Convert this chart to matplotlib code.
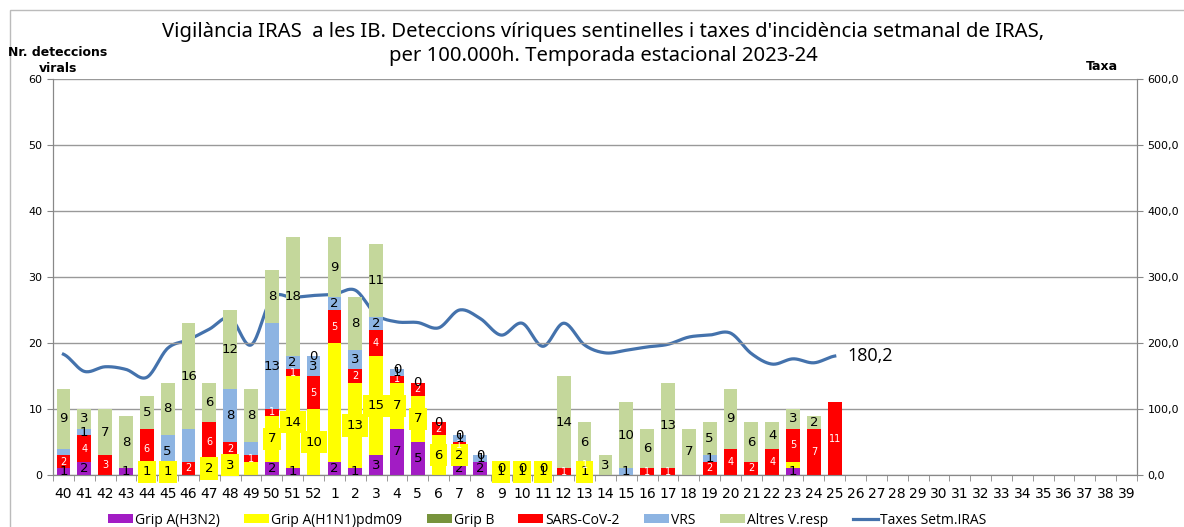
import matplotlib
matplotlib.use("Agg")
import matplotlib.pyplot as plt
from matplotlib.patches import Patch, Rectangle
from matplotlib.lines import Line2D
import numpy as np

# setmanes epidemiologiques (temporada 2023-24)
weeks = [str(w) for w in list(range(40, 53)) + list(range(1, 40))]

# deteccions per virus, setmanes 40..25 (resta sense dades)
h3n2 = [1, 2, 0, 1, 0, 0, 0, 0, 0, 0, 2, 1, 0, 2, 1, 3, 7, 5, 0, 2, 2, 0, 0, 0,
        0, 0, 0, 0, 0, 0, 0, 0, 0, 0, 0, 1, 0, 0]
h1n1 = [0, 0, 0, 0, 1, 1, 0, 2, 3, 2, 7, 14, 10, 18, 13, 15, 7, 7, 6, 2, 0, 1, 1, 1,
        0, 1, 0, 0, 0, 0, 0, 0, 0, 0, 0, 1, 0, 0]
gripb = [0] * 38
sars = [2, 4, 3, 0, 6, 0, 2, 6, 2, 1, 1, 1, 5, 5, 2, 4, 1, 2, 2, 1, 0, 0, 0, 0,
        1, 1, 0, 0, 1, 1, 0, 2, 4, 2, 4, 5, 7, 11]
vrs = [1, 1, 0, 0, 0, 5, 5, 0, 8, 2, 13, 2, 3, 2, 3, 2, 1, 0, 0, 1, 1, 0, 0, 0,
       0, 0, 0, 1, 0, 0, 0, 1, 0, 0, 0, 0, 0, 0]
altres = [9, 3, 7, 8, 5, 8, 16, 6, 12, 8, 8, 18, 0, 9, 8, 11, 0, 0, 0, 0, 0, 0, 0, 0,
          14, 6, 3, 10, 6, 13, 7, 5, 9, 6, 4, 3, 2, None]

# taxa setmanal IRAS per 100.000h
taxes = [183, 157, 164, 160, 148, 192, 205, 221, 238, 197, 268, 269, 272, 274, 280, 243,
         232, 231, 223, 250, 237, 212, 230, 195, 230, 197, 185, 189, 194, 198, 209, 212,
         215, 184, 168, 176, 170, 180.2]

series_names = ["Grip A(H3N2)", "Grip A(H1N1)pdm09", "Grip B", "SARS-CoV-2", "VRS", "Altres V.resp"]
series_vals = [h3n2, h1n1, gripb, sars, vrs, altres]
colors = ["#A21CC4", "#FFFF00", "#77933C", "#FF0000", "#8DB4E2", "#C4D79B"]

# etiquetes que no surten al grafic original
no_label = {("VRS", "40"), ("VRS", "46"), ("VRS", "49"), ("Grip A(H1N1)pdm09", "49"),
            ("Grip A(H1N1)pdm09", "1"), ("Grip A(H1N1)pdm09", "23")}

plt.rcParams["font.family"] = ["DejaVu Sans"]

fig = plt.figure(figsize=(11.84, 5.27), dpi=100)
ax = fig.add_axes([53 / 1184, 1 - 475 / 527, (1137 - 53) / 1184, (475 - 79) / 527])
ax2 = ax.twinx()

n = len(taxes)
x = np.arange(n)
bottom = np.zeros(n)
for name, vals, col in zip(series_names, series_vals, colors):
    v = np.array([np.nan if a is None else a for a in vals], dtype=float)
    h = np.nan_to_num(v)
    ax.bar(x, h, 0.66, bottom=bottom, color=col, zorder=2)
    for i in range(n):
        if np.isnan(v[i]) or (name, weeks[i]) in no_label:
            continue
        if v[i] == 0 and name != "Altres V.resp":
            continue
        yc = bottom[i] + h[i] / 2
        if name == "SARS-CoV-2":
            ax.text(i, yc, str(int(v[i])), ha="center", va="center", fontsize=7,
                    color="white", zorder=4)
        elif name == "Grip A(H1N1)pdm09":
            ax.text(i, yc, str(int(v[i])), ha="center", va="center", fontsize=9.5,
                    color="black", zorder=4,
                    bbox=dict(boxstyle="square,pad=0.35", fc="#FFFF00", ec="none"))
        else:
            ax.text(i, yc, str(int(v[i])), ha="center", va="center", fontsize=9.5,
                    color="black", zorder=4)
    bottom += h

# linia suavitzada (com Excel: bezier catmull-rom)
t = np.array(taxes, dtype=float)
px, py = [], []
for i in range(n - 1):
    p0 = t[i - 1] if i > 0 else t[i]
    p3 = t[i + 2] if i + 2 < n else t[i + 1]
    p1, p2 = t[i], t[i + 1]
    s = np.linspace(0, 1, 20)
    c1 = p1 + (p2 - p0) / 6
    c2 = p2 - (p3 - p1) / 6
    yy = (1 - s) ** 3 * p1 + 3 * (1 - s) ** 2 * s * c1 + 3 * (1 - s) * s ** 2 * c2 + s ** 3 * p2
    px.extend(i + s)
    py.extend(yy)
ax2.plot(px, py, color="#4472AC", lw=2.3, zorder=3)
ax2.text(n - 1 + 0.6, taxes[-1], ("%.1f" % taxes[-1]).replace(".", ","), fontsize=13,
         family="Open Sans", va="center", ha="left")

ax.set_xlim(-0.5, len(weeks) - 0.5)
ax.set_ylim(0, 60)
ax2.set_ylim(0, 600)
ax.set_yticks(range(0, 61, 10))
ax2.set_yticks(range(0, 601, 100))
ax2.set_yticklabels([("%.1f" % v).replace(".", ",") for v in range(0, 601, 100)])
ax.set_xticks(np.arange(len(weeks)))
ax.set_xticklabels(weeks)
ax.set_xticks(np.arange(len(weeks) + 1) - 0.5, minor=True)
ax.tick_params(axis="x", which="major", length=0, labelsize=10, pad=9)
ax.tick_params(axis="x", which="minor", length=4, color="#888888")
ax.tick_params(axis="y", length=4, color="#888888", labelsize=8)
ax2.tick_params(axis="y", length=4, color="#888888", labelsize=8)
ax.yaxis.grid(True, color="#999999", lw=1, zorder=0)
ax.set_axisbelow(True)
for a in (ax, ax2):
    a.spines["top"].set_visible(False)
    for sp in ("left", "right", "bottom"):
        a.spines[sp].set_color("#888888")
ax.set_zorder(ax2.get_zorder() + 1)
ax.patch.set_visible(False)

fig.text(603 / 1184, 1 - 44 / 527,
         "Vigilància IRAS  a les IB. Deteccions víriques sentinelles i taxes d'incidència setmanal de IRAS,\n"
         "per 100.000h. Temporada estacional 2023-24",
         ha="center", va="center", fontsize=14.6, family="Noto Sans", linespacing=1.2)
fig.text(58 / 1184, 1 - 60 / 527, "Nr. deteccions\nvirals", ha="center", va="center",
         fontsize=9, fontweight="bold", linespacing=1.3)
fig.text(1102 / 1184, 1 - 66 / 527, "Taxa", ha="center", va="center",
         fontsize=9, fontweight="bold")

handles = [Patch(facecolor=c, edgecolor="none") for c in colors]
handles.append(Line2D([0], [0], color="#4472AC", lw=2.3))
fig.legend(handles, series_names + ["Taxes Setm.IRAS"], loc="lower center",
           bbox_to_anchor=(0.462, -0.025), ncol=7, frameon=False,
           handlelength=1.8, handleheight=0.6, handletextpad=0.15, columnspacing=1.75,
           prop={"family": "Open Sans", "size": 10})

fig.patches.append(Rectangle((9.5 / 1184, -0.1), 1.2, 1.1 - 9.5 / 527,
                             transform=fig.transFigure, fill=False, ec="#BBBBBB", lw=1))

fig.savefig("out.png", dpi=100)
